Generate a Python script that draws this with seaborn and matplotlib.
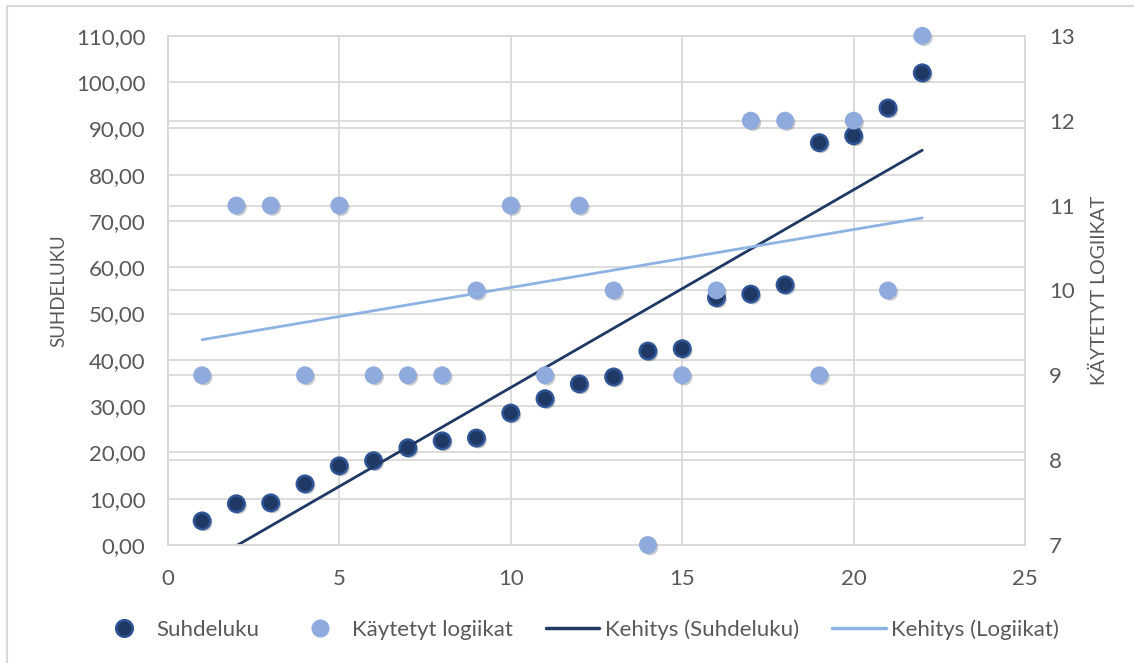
import matplotlib
matplotlib.use("Agg")
import matplotlib.pyplot as plt
import matplotlib.patheffects as pe
from matplotlib.lines import Line2D
from matplotlib.ticker import FuncFormatter
import seaborn as sns
import pandas as pd

# data
kierros = list(range(1, 23))
suhdeluku = [5.2, 8.9, 9.1, 13.2, 17.1, 18.2, 21.0, 22.5, 23.1, 28.5, 31.6,
             34.8, 36.3, 41.9, 42.4, 53.4, 54.2, 56.2, 86.9, 88.4, 94.4, 102.0]
logiikat = [9, 11, 11, 9, 11, 9, 9, 9, 10, 11, 9,
            11, 10, 7, 9, 10, 12, 12, 9, 12, 10, 13]
x_ticks = [0, 5, 10, 15, 20, 25]
left_ticks = list(range(0, 111, 10))
right_ticks = list(range(7, 14))

df = pd.DataFrame({"x": kierros, "suhde": suhdeluku, "logiikat": logiikat})

dark = "#1F3864"
dark_edge = "#2F5597"
light = "#8FAADC"
light_line = "#8DB3E2"
grid_c = "#D9D9D9"
text_c = "#595959"

sns.set_style("white")
plt.rcParams["font.family"] = ["Lato", "DejaVu Sans"]

fig = plt.figure(figsize=(11.34, 6.63), dpi=100)
ax1 = fig.add_axes([0.148, 0.178, 0.756, 0.768])
ax2 = ax1.twinx()

shadow = [pe.SimplePatchShadow(offset=(1.5, -1.5), alpha=0.25), pe.Normal()]

# primary axis: Suhdeluku
sns.scatterplot(data=df, x="x", y="suhde", ax=ax1, s=140, color=dark,
                edgecolor=dark_edge, linewidth=1.8, zorder=3, legend=False)
ax1.collections[-1].set_path_effects(shadow)
ax1.collections[-1].set_clip_on(False)
sns.regplot(data=df, x="x", y="suhde", ax=ax1, scatter=False, ci=None,
            truncate=True, color=dark, line_kws={"lw": 2, "zorder": 4})

# secondary axis: Käytetyt logiikat
sns.scatterplot(data=df, x="x", y="logiikat", ax=ax2, s=140, color=light,
                edgecolor=light, linewidth=1, zorder=3, legend=False)
ax2.collections[-1].set_path_effects(shadow)
ax2.collections[-1].set_clip_on(False)
sns.regplot(data=df, x="x", y="logiikat", ax=ax2, scatter=False, ci=None,
            truncate=True, color=light_line, line_kws={"lw": 2, "zorder": 4})

ax1.set_xlim(0, 25)
ax1.set_ylim(0, 110)
ax2.set_ylim(7, 13)
ax1.set_xticks(x_ticks)
ax1.set_yticks(left_ticks)
ax2.set_yticks(right_ticks)
# right-axis gridlines drawn on the back axes so points stay above them
ax1.set_yticks([(v - 7) / 6 * 110 for v in right_ticks], minor=True)
ax1.yaxis.set_major_formatter(FuncFormatter(lambda v, p: f"{v:.2f}".replace(".", ",")))

ax1.grid(True, which="both", axis="y", color=grid_c, lw=1.3)
ax1.grid(True, which="major", axis="x", color=grid_c, lw=1.3)
ax1.set_axisbelow(True)
ax2.grid(False)

for ax in (ax1, ax2):
    for s in ax.spines.values():
        s.set_color(grid_c)
        s.set_linewidth(1.3)
    ax.tick_params(which="both", length=0, labelsize=16, colors=text_c)
ax1.tick_params(axis="y", pad=16)
ax1.tick_params(axis="x", pad=17)
ax2.tick_params(axis="y", pad=17)

ax1.set_xlabel("")
ax1.set_ylabel("SUHDELUKU", fontsize=13.5, color=text_c, labelpad=6)
ax2.set_ylabel("KÄYTETYT LOGIIKAT", fontsize=14, color=text_c, labelpad=12)

handles = [
    Line2D([], [], ls="none", marker="o", ms=12, mfc=dark, mec=dark_edge, mew=1.8),
    Line2D([], [], ls="none", marker="o", ms=12, mfc=light, mec=light),
    Line2D([], [], color=dark, lw=2.5),
    Line2D([], [], color=light_line, lw=2.5),
]
labels = ["Suhdeluku", "Käytetyt logiikat", "Kehitys (Suhdeluku)", "Kehitys (Logiikat)"]
fig.legend(handles, labels, loc="center", bbox_to_anchor=(0.51, 0.05), ncol=4,
           frameon=False, fontsize=16, labelcolor=text_c, columnspacing=1.5,
           handlelength=2.4, handletextpad=0.25)

# chart-area border (top and left edges visible in the reference)
fig.add_artist(Line2D([0.006, 1.0], [0.991, 0.991], color=grid_c, lw=1.5,
                      transform=fig.transFigure))
fig.add_artist(Line2D([0.006, 0.006], [0.0, 0.991], color=grid_c, lw=1.5,
                      transform=fig.transFigure))

fig.savefig("out.png", dpi=100)
